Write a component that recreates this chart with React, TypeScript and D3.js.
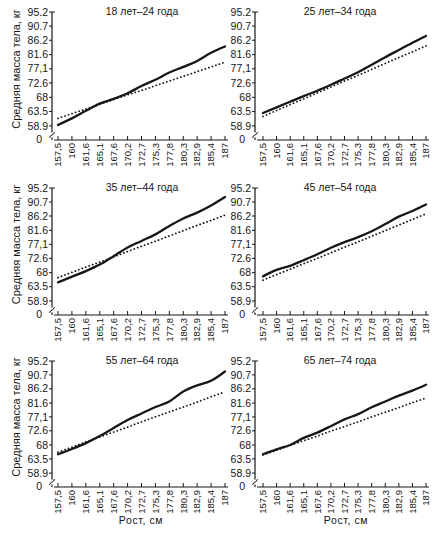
import { useEffect, useRef } from "react";
import * as d3 from "d3";

// рост, см (равные шаги по 1 дюйму)
const heightLabels = ["157,5", "160", "161,6", "165,1", "167,6", "170,2", "172,7", "175,3", "177,8", "180,3", "182,9", "185,4", "187"];
// масса тела, кг
const weightTicks = [95.2, 90.7, 86.2, 81.6, 77.1, 72.6, 68, 63.5, 58.9];
const weightLabels = ["95.2", "90.7", "86.2", "81.6", "77,1", "72.6", "68", "63.5", "58.9"];

const ageTitles = ["18 лет–24 года", "25 лет–34 года", "35 лет–44 года", "45 лет–54 года", "55 лет–64 года", "65 лет–74 года"];

const solid18 = [59.2, 61.3, 63.7, 66.0, 67.5, 69.3, 71.6, 73.6, 75.9, 77.7, 79.6, 82.2, 84.2];
const dotted18 = [61.3, 62.8, 64.3, 65.8, 67.3, 68.8, 70.2, 71.7, 73.2, 74.7, 76.2, 77.7, 79.2];
const solid25 = [63.0, 64.8, 66.6, 68.4, 70.1, 72.0, 74.0, 76.0, 78.4, 80.8, 83.1, 85.4, 87.6];
const dotted25 = [61.9, 63.8, 65.7, 67.5, 69.4, 71.3, 73.2, 75.0, 76.9, 78.8, 80.7, 82.5, 84.4];
const solid35 = [64.9, 66.7, 68.5, 70.6, 73.3, 76.1, 78.2, 80.3, 83.0, 85.4, 87.3, 89.6, 92.3];
const dotted35 = [66.4, 68.1, 69.8, 71.4, 73.1, 74.8, 76.5, 78.1, 79.8, 81.5, 83.2, 84.8, 86.5];
const solid45 = [66.8, 68.9, 70.2, 72.0, 73.9, 76.0, 77.8, 79.4, 81.3, 83.6, 86.0, 87.8, 89.9];
const dotted45 = [65.6, 67.4, 69.1, 70.9, 72.6, 74.4, 76.2, 77.9, 79.7, 81.5, 83.3, 85.1, 86.9];
const solid55 = [65.0, 66.7, 68.6, 70.9, 73.5, 76.1, 78.2, 80.3, 82.1, 85.3, 87.3, 88.8, 91.8];
const dotted55 = [65.7, 67.3, 69.0, 70.6, 72.2, 73.8, 75.5, 77.1, 78.7, 80.3, 81.9, 83.6, 85.2];
const solid65 = [65.0, 66.6, 68.0, 70.3, 72.0, 74.1, 76.3, 78.0, 80.2, 82.1, 84.0, 85.6, 87.5];
const dotted65 = [64.8, 66.3, 67.9, 69.4, 70.9, 72.5, 74.0, 75.5, 77.1, 78.6, 80.1, 81.7, 83.2];

const solidSeries = [solid18, solid25, solid35, solid45, solid55, solid65];
const dottedSeries = [dotted18, dotted25, dotted35, dotted45, dotted55, dotted65];

const W = 436;
const H = 535;
const INK = "#161616";
const FONT = "'Liberation Sans', Arial, sans-serif";

const cols = [
  { axisX: 52, x0: 58, x1: 225, titleX: 142, labelX: 141 },
  { axisX: 255, x0: 263, x1: 426, titleX: 340, labelX: 346 },
];
const rows = [
  { top: 12, base: 140 },
  { top: 188, base: 315 },
  { top: 361, base: 487 },
];
const yMin = 54.4; // положение «0» после разрыва оси

export default function App() {
  const svgRef = useRef<SVGSVGElement | null>(null);

  useEffect(() => {
    if (!svgRef.current) return;
    const svg = d3.select(svgRef.current);
    svg.selectAll("*").remove();

    svg.append("rect").attr("width", W).attr("height", H).attr("fill", "#fff");

    ageTitles.forEach((title, i) => {
      const c = cols[i % 2];
      const r = rows[Math.floor(i / 2)];
      const g = svg.append("g");

      const x = d3.scalePoint().domain(heightLabels).range([c.x0, c.x1]);
      const y = d3.scaleLinear().domain([yMin, 95.2]).range([r.base, r.top]);

      // Y axis
      g.append("line")
        .attr("x1", c.axisX).attr("x2", c.axisX)
        .attr("y1", r.top).attr("y2", r.base)
        .attr("stroke", INK).attr("stroke-width", 1.2);
      g.append("line")
        .attr("x1", c.axisX).attr("x2", c.axisX + 3)
        .attr("y1", r.top).attr("y2", r.top)
        .attr("stroke", INK).attr("stroke-width", 1);

      weightTicks.forEach((v, k) => {
        g.append("line")
          .attr("x1", c.axisX - 3).attr("x2", c.axisX)
          .attr("y1", y(v)).attr("y2", y(v))
          .attr("stroke", INK).attr("stroke-width", 1);
        g.append("text")
          .attr("x", c.axisX - 4).attr("y", y(v))
          .attr("dy", "0.35em")
          .attr("text-anchor", "end")
          .attr("font-family", FONT).attr("font-size", 10.5)
          .attr("fill", INK)
          .text(weightLabels[k]);
      });
      g.append("text")
        .attr("x", c.axisX - 10).attr("y", y(yMin) - 1)
        .attr("dy", "0.35em")
        .attr("text-anchor", "end")
        .attr("font-family", FONT).attr("font-size", 10.5)
        .attr("fill", INK)
        .text("0");

      // break mark on Y axis
      const by = (y(yMin) + y(58.9)) / 2 + 2;
      g.append("rect")
        .attr("x", c.axisX - 2).attr("y", by - 2.5)
        .attr("width", 4).attr("height", 5)
        .attr("fill", "#fff");
      g.append("path")
        .attr("d", `M${c.axisX - 2.5},${by + 3} q1,-3 2.5,-3 t2.5,-3`)
        .attr("fill", "none").attr("stroke", INK).attr("stroke-width", 1);

      // X axis
      g.append("line")
        .attr("x1", c.axisX + 2).attr("x2", c.x1 + 3)
        .attr("y1", r.base).attr("y2", r.base)
        .attr("stroke", INK).attr("stroke-width", 1.2);
      heightLabels.forEach((lab) => {
        const px = x(lab) || 0;
        g.append("line")
          .attr("x1", px).attr("x2", px)
          .attr("y1", r.base).attr("y2", r.base - 4)
          .attr("stroke", INK).attr("stroke-width", 1);
        g.append("text")
          .attr("transform", `translate(${px},${r.base + 3}) rotate(-90)`)
          .attr("dy", "0.35em")
          .attr("text-anchor", "end")
          .attr("font-family", FONT).attr("font-size", 9.5)
          .attr("fill", INK)
          .text(lab);
      });

      // Title
      g.append("text")
        .attr("x", c.titleX).attr("y", r.top + 3)
        .attr("text-anchor", "middle")
        .attr("font-family", FONT).attr("font-size", 10.5)
        .attr("fill", INK)
        .text(title);

      // Lines
      const line = d3.line<number>()
        .x((_, k) => x(heightLabels[k]) || 0)
        .y((d) => y(d))
        .curve(d3.curveMonotoneX);

      g.append("path")
        .datum(dottedSeries[i])
        .attr("d", line)
        .attr("fill", "none")
        .attr("stroke", INK)
        .attr("stroke-width", 1.8)
        .attr("stroke-linecap", "round")
        .attr("stroke-dasharray", "0.1,3.6");

      g.append("path")
        .datum(solidSeries[i])
        .attr("d", line)
        .attr("fill", "none")
        .attr("stroke", INK)
        .attr("stroke-width", 2.3)
        .attr("stroke-linecap", "round");

      // Axis titles
      if (i % 2 === 0) {
        const cy = (r.top + r.base) / 2 - 7;
        g.append("text")
          .attr("transform", `translate(16,${cy}) rotate(-90)`)
          .attr("dy", "0.35em")
          .attr("text-anchor", "middle")
          .attr("font-family", FONT).attr("font-size", 11)
          .attr("fill", INK)
          .text("Средняя масса тела, кг");
      }
      if (i >= 4) {
        g.append("text")
          .attr("x", c.labelX).attr("y", 524)
          .attr("text-anchor", "middle")
          .attr("font-family", FONT).attr("font-size", 10.5)
          .attr("letter-spacing", 0.6)
          .attr("fill", INK)
          .text("Рост, см");
      }
    });
  }, []);

  return (
    <svg
      ref={svgRef}
      width={W}
      height={H}
      style={{ position: "absolute", left: 0, top: 0 }}
    />
  );
}
